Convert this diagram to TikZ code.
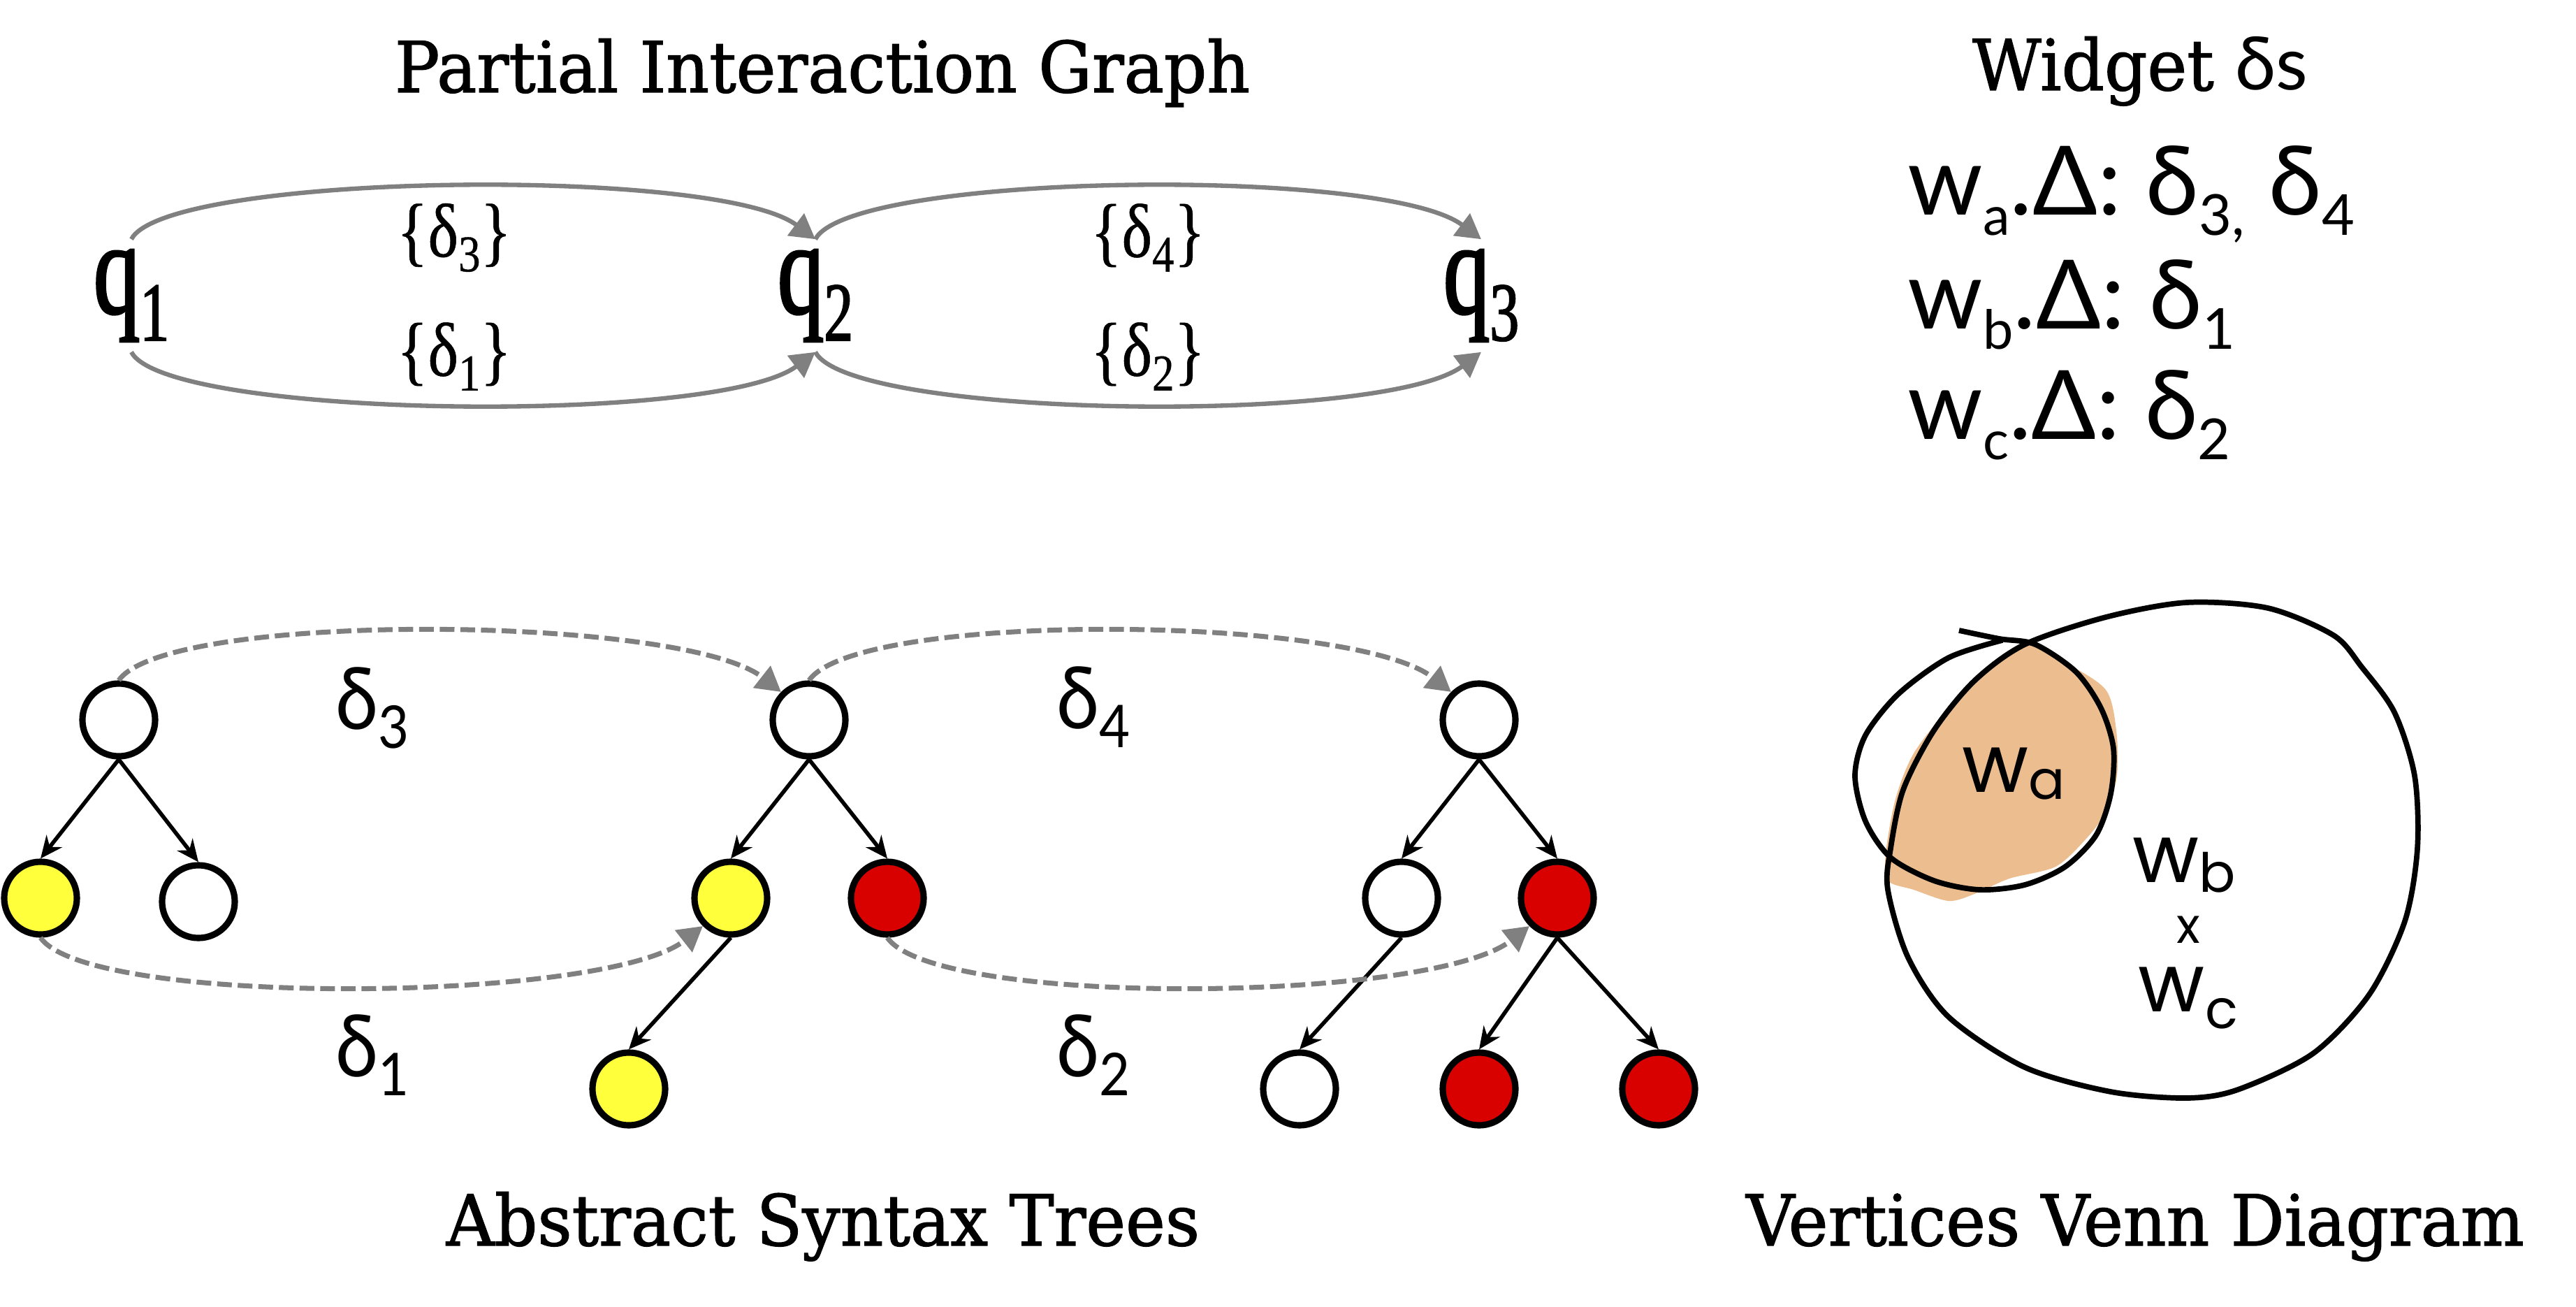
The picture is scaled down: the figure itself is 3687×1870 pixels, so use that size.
\documentclass[tikz,border=0pt]{standalone}
\usepackage{fontspec}
\setmainfont[FakeStretch=0.95, FakeBold=1.3]{DejaVu Serif}
\newfontfamily\qfont[FakeStretch=0.7, FakeBold=1.5]{Liberation Serif}
\newfontfamily\efont[FakeStretch=0.85, FakeBold=0.5]{Liberation Serif}
\newfontfamily\dfont[FakeStretch=0.9]{Lato}
\newfontfamily\wfont{Lato}
\newfontfamily\hfont{Poppins}
\usetikzlibrary{arrows.meta}
\definecolor{nodeyellow}{RGB}{255,255,59}
\definecolor{nodered}{RGB}{217,0,0}
\definecolor{peach}{RGB}{236,189,142}
\definecolor{arcgray}{RGB}{128,128,128}
\newcommand{\dn}[3]{\raisebox{-#2}{\fontsize{#1}{#1}\selectfont #3}}

\begin{document}
\begin{tikzpicture}
    [
        x = 0.01cm, y = -0.01cm,
        title/.style = {anchor = base, inner sep = 0pt, font = \fontsize{28.7}{30}\selectfont},
        qnode/.style = {inner sep = 0pt, minimum height = 1.6cm, font = \qfont\fontsize{54}{54}\selectfont},
        elabel/.style = {inner sep = 0pt, font = \efont\fontsize{31}{31}\selectfont},
        dlabel/.style = {inner sep = 0pt, font = \dfont\fontsize{35}{35}\selectfont},
        wline/.style = {anchor = base west, inner sep = 0pt, font = \wfont\fontsize{39}{39}\selectfont},
        hand/.style = {inner sep = 0pt, font = \hfont\fontsize{33}{33}\selectfont},
        ast/.style = {draw, circle, line width = 2.6pt, minimum size = 1.04cm, inner sep = 0pt, fill = white},
        child/.style = {-{Stealth[length=9pt,width=8pt]}, line width = 1.6pt},
        flow/.style = {arcgray, line width = 1.8pt, -{Triangle[length=10pt,width=11pt]}},
        link/.style = {flow, line width = 2pt, dash pattern = on 6pt off 2.4pt}
    ]

    \useasboundingbox (0,0) rectangle (3687,1870);

    \node[title] (pig) at (1177,132) {Partial Interaction Graph};
    \node[title] (wds) at (3063,129) {Widget {\wfont\fontsize{30}{30}\selectfont δs}};
    \node[title] (astt) at (1178,1782) {Abstract Syntax Trees};
    \node[title] (vvd) at (3056,1782) {Vertices Venn Diagram};

    \node[qnode] (q1) at (188,423) {q\dn{34}{11pt}{1}};
    \node[qnode] (q2) at (1167,423) {q\dn{34}{11pt}{2}};
    \node[qnode] (q3) at (2120,423) {q\dn{34}{11pt}{3}};

    \draw[flow] (q1.north) .. controls +(50,-95) and +(-140,-105) .. (q2.north);
    \draw[flow] (q2.north) .. controls +(50,-95) and +(-140,-105) .. (q3.north);
    \draw[flow] (q1.south) .. controls +(50,95) and +(-140,105) .. (q2.south);
    \draw[flow] (q2.south) .. controls +(50,95) and +(-140,105) .. (q3.south);

    \node[elabel] (e3) at (650,340) {\{δ\dn{21}{6pt}{3}\}};
    \node[elabel] (e1) at (650,510) {\{δ\dn{21}{6pt}{1}\}};
    \node[elabel] (e4) at (1643,340) {\{δ\dn{21}{6pt}{4}\}};
    \node[elabel] (e2) at (1643,510) {\{δ\dn{21}{6pt}{2}\}};

    \node[wline] (wa) at (2730,308) {w\dn{22}{8pt}{a}.Δ: δ\dn{23}{8pt}{3,} δ\dn{23}{8pt}{4}};
    \node[wline] (wb) at (2730,471) {w\dn{22}{8pt}{b}.Δ: δ\dn{23}{8pt}{1}};
    \node[wline] (wc) at (2730,629) {w\dn{22}{8pt}{c}.Δ: δ\dn{23}{8pt}{2}};

    \node[ast] (a1) at (170,1030) {};
    \node[ast, fill = nodeyellow] (a11) at (58,1285) {};
    \node[ast] (a12) at (284,1290) {};

    \node[ast] (a2) at (1158,1030) {};
    \node[ast, fill = nodeyellow] (a21) at (1046,1285) {};
    \node[ast, fill = nodered] (a22) at (1270,1285) {};
    \node[ast, fill = nodeyellow] (a211) at (900,1558) {};

    \node[ast] (a3) at (2117,1030) {};
    \node[ast] (a31) at (2006,1285) {};
    \node[ast, fill = nodered] (a32) at (2229,1285) {};
    \node[ast] (a311) at (1860,1558) {};
    \node[ast, fill = nodered] (a321) at (2117,1558) {};
    \node[ast, fill = nodered] (a322) at (2374,1558) {};

    \draw[child] (a1.south) -- (a11.north);
    \draw[child] (a1.south) -- (a12.north);
    \draw[child] (a2.south) -- (a21.north);
    \draw[child] (a2.south) -- (a22.north);
    \draw[child] (a21.south) -- (a211.north);
    \draw[child] (a3.south) -- (a31.north);
    \draw[child] (a3.south) -- (a32.north);
    \draw[child] (a31.south) -- (a311.north);
    \draw[child] (a32.south) -- (a321.north);
    \draw[child] (a32.south) -- (a322.north);

    \draw[link] (a1.north) .. controls +(70,-100) and +(-140,-110) .. (a2.135);
    \draw[link] (a2.north) .. controls +(70,-100) and +(-140,-110) .. (a3.135);
    \draw[link] (a11.south) .. controls +(70,100) and +(-140,110) .. (a21.225);
    \draw[link] (a22.south) .. controls +(70,100) and +(-140,110) .. (a32.225);

    \node[dlabel] (d3) at (533,1013) {δ\dn{24}{7.7pt}{3}};
    \node[dlabel] (d1) at (533,1510) {δ\dn{24}{7.7pt}{1}};
    \node[dlabel] (d4) at (1565,1012) {δ\dn{24}{7.7pt}{4}};
    \node[dlabel] (d2) at (1565,1510) {δ\dn{24}{7.7pt}{2}};

    \fill[peach] plot[smooth cycle] coordinates {(2898,920) (2956,948) (3014,987) (3029,1045) (3030,1110) (3014,1162) (2985,1201) (2942,1240) (2876,1257) (2826,1279) (2789,1289) (2739,1273) (2702,1260) (2699,1221) (2713,1143) (2739,1078) (2789,1013) (2840,961)};
    \draw[line width = 2.2pt] plot[smooth cycle] coordinates {(2898,922) (3014,883) (3130,862) (3246,870) (3340,909) (3380,954) (3427,1019) (3456,1110) (3460,1214) (3442,1318) (3391,1423) (3311,1507) (3203,1559) (3130,1571) (3021,1562) (2898,1527) (2789,1455) (2731,1370) (2702,1273) (2706,1214) (2724,1130) (2768,1045) (2826,974)};
    \draw[line width = 2.2pt] plot[smooth] coordinates {(2804,902) (2862,914) (2913,922) (2971,961) (3007,1013) (3025,1071) (3021,1136) (3000,1195) (2956,1240) (2898,1266) (2833,1273) (2768,1260) (2706,1227) (2670,1175) (2655,1110) (2670,1052) (2717,993) (2789,941) (2866,916)};

    \node[hand] (va) at (2882,1107) {w\dn{22}{3pt}{a}};
    \node[hand] (vb) at (3126,1238) {w\dn{22}{4pt}{b}};
    \node[hand, font = \hfont\fontsize{20}{20}\selectfont] (vx) at (3132,1330) {x};
    \node[hand] (vc) at (3132,1428) {w\dn{22}{7pt}{c}};
\end{tikzpicture}
\end{document}
